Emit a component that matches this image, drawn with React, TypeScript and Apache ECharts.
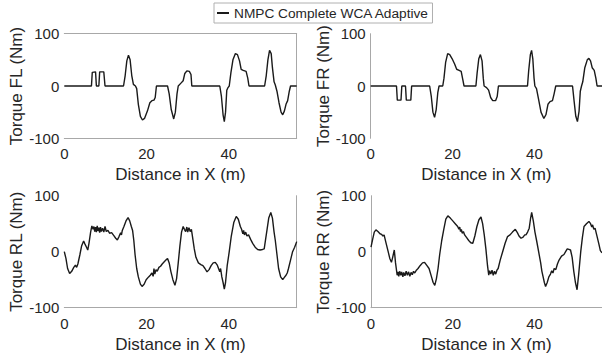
import React, { useEffect, useRef } from "react";
import * as echarts from "echarts";

const seriesName = "NMPC Complete WCA Adaptive";
const xTitle = "Distance in X (m)";
const yTitles = ["Torque FL (Nm)", "Torque FR (Nm)", "Torque RL (Nm)", "Torque RR (Nm)"];
const xRange = [0, 56.5];
const yRange = [-100, 100];

const fl: number[][] = [
  [0, 0], [6.6, 0], [6.8, 26], [7.6, 27], [7.8, 0], [8.4, 0], [8.6, 27], [9.6, 27], [9.9, 0],
  [14.4, 0], [14.8, 20], [15.2, 48], [15.6, 59], [16.0, 50], [16.4, 20], [16.8, 3], [17.3, 0], [17.6, -5],
  [18.0, -35], [18.5, -58], [19.0, -65], [19.5, -62], [20.2, -48], [20.8, -32], [21.3, -28], [21.8, -27],
  [22.1, -22], [22.4, 0], [25.1, 0], [25.5, -15], [26.0, -45], [26.6, -63], [27.0, -50], [27.4, -15],
  [27.7, 0], [28.3, 5], [28.9, 10], [29.3, 24], [29.8, 29], [30.4, 28], [30.8, 22], [31.0, 0],
  [37.8, 0], [38.2, -20], [38.6, -55], [38.9, -68], [39.2, -50], [39.5, -8], [39.8, -3], [40.1, 0],
  [40.5, 25], [41.0, 50], [41.6, 62], [42.1, 60], [42.6, 48], [43.0, 32], [43.5, 30], [44.2, 28],
  [44.6, 15], [44.9, 0], [48.7, 0], [49.1, 20], [49.5, 50], [49.9, 68], [50.3, 62], [50.6, 35],
  [51.0, 8], [51.3, 2], [51.7, -10], [52.2, -32], [52.7, -50], [53.1, -55], [53.5, -48], [53.9, -35],
  [54.3, -28], [54.7, -10], [55.0, 0], [56.5, 0],
];

const fr: number[][] = [
  [0, 0], [6.3, 0], [6.5, -27], [7.4, -27], [7.6, 0], [8.5, 0], [8.7, -27], [9.8, -27], [10.0, 0],
  [14.4, 0], [14.8, -20], [15.2, -50], [15.6, -60], [16.0, -45], [16.4, -12], [16.7, 0], [17.6, 0],
  [17.9, 15], [18.3, 45], [18.8, 62], [19.3, 60], [19.9, 52], [20.5, 42], [21.0, 32], [21.6, 30],
  [22.1, 28], [22.5, 12], [22.8, 0], [25.7, 0], [26.0, 25], [26.4, 52], [26.8, 60], [27.2, 48],
  [27.5, 15], [27.7, 0], [28.3, -3], [28.8, -8], [29.3, -22], [29.8, -28], [30.5, -28], [30.9, -20],
  [31.2, 0], [38.3, 0], [38.6, 30], [39.0, 60], [39.3, 68], [39.6, 52], [39.9, 15], [40.1, 0],
  [40.5, -5], [41.0, -25], [41.6, -50], [42.3, -62], [42.8, -55], [43.3, -35], [43.8, -30], [44.4, -28],
  [44.8, -15], [45.2, 0], [49.3, 0], [49.7, -30], [50.1, -58], [50.5, -68], [50.9, -48], [51.2, -10],
  [51.5, 0], [51.8, 8], [52.3, 35], [52.9, 50], [53.3, 53], [53.7, 48], [54.1, 35], [54.6, 30],
  [55.0, 15], [55.3, 0], [56.5, 0],
];

const rl: number[][] = [
  [0, 0], [0.4, -12], [0.8, -30], [1.3, -39], [1.8, -35], [2.3, -28], [2.7, -24], [3.0, -28], [3.3, -22],
  [3.8, -5], [4.2, 10], [4.7, 19], [5.0, 14], [5.4, 8], [5.7, 3], [6.0, 15], [6.4, 35], [6.7, 46],
  [7.0, 40], [7.2, 45], [7.4, 36], [7.6, 44], [7.8, 35], [8.0, 46], [8.2, 37], [8.4, 43], [8.6, 34],
  [8.8, 44], [9.0, 36], [9.3, 42], [9.6, 35], [9.9, 45], [10.2, 36], [10.6, 38], [11.0, 33], [11.5, 34],
  [12.0, 29], [12.5, 24], [12.9, 21], [13.3, 27], [13.7, 34], [13.9, 30], [14.1, 38], [14.5, 45],
  [15.0, 55], [15.5, 61], [15.9, 55], [16.3, 45], [16.6, 38], [16.9, 20], [17.2, -5], [17.6, -30],
  [18.0, -45], [18.5, -58], [18.9, -62], [19.4, -58], [19.9, -50], [20.5, -45], [20.9, -42], [21.3, -38],
  [21.6, -44], [21.8, -30], [22.0, -40], [22.3, -32], [22.6, -35], [23.0, -28], [23.4, -26], [23.8, -22],
  [24.3, -18], [24.7, -15], [25.1, -12], [25.5, -20], [25.9, -35], [26.4, -50], [26.9, -60], [27.3, -48],
  [27.7, -20], [28.1, 10], [28.5, 35], [28.9, 45], [29.2, 40], [29.5, 36], [29.8, 44], [30.0, 35],
  [30.3, 43], [30.6, 36], [30.9, 40], [31.2, 25], [31.6, 5], [32.0, -10], [32.6, -20], [33.2, -23],
  [33.7, -25], [34.2, -30], [34.7, -36], [35.2, -32], [35.7, -25], [36.2, -20], [36.7, -19], [37.2, -24],
  [37.5, -30], [37.8, -36], [38.0, -30], [38.3, -45], [38.6, -55], [38.9, -67], [39.2, -55], [39.6, -25],
  [40.1, 0], [40.6, 28], [41.2, 52], [41.8, 63], [42.3, 58], [42.8, 45], [43.1, 40], [43.4, 32],
  [43.6, 38], [43.8, 30], [44.1, 35], [44.4, 28], [44.8, 30], [45.3, 22], [45.8, 15], [46.4, 8],
  [47.0, 4], [47.6, 3], [48.2, 4], [48.6, 5], [49.0, 25], [49.3, 40], [49.7, 60], [50.2, 70],
  [50.6, 60], [51.0, 35], [51.3, 20], [51.7, -5], [52.1, -30], [52.6, -45], [53.1, -50], [53.5, -46],
  [53.9, -42], [54.2, -38], [54.5, -30], [55.0, -15], [55.5, 0], [56.0, 8], [56.5, 18],
];

const rr: number[][] = [
  [0, 8], [0.4, 22], [0.8, 35], [1.2, 39], [1.7, 36], [2.2, 32], [2.6, 31], [2.9, 28], [3.2, 30],
  [3.7, 15], [4.2, 0], [4.6, -12], [5.0, -19], [5.3, -10], [5.7, 3], [6.0, -20], [6.4, -42], [6.6, -36],
  [6.8, -44], [7.0, -35], [7.3, -42], [7.5, -36], [7.8, -45], [8.0, -37], [8.3, -43], [8.6, -35],
  [8.9, -42], [9.2, -36], [9.5, -44], [9.8, -37], [10.1, -41], [10.4, -35], [10.7, -38], [11.1, -33],
  [11.5, -30], [12.0, -25], [12.6, -20], [13.1, -19], [13.6, -24], [14.2, -30], [14.8, -45], [15.2, -55],
  [15.6, -60], [16.0, -48], [16.4, -30], [16.8, -5], [17.3, 20], [17.8, 40], [18.3, 58], [18.8, 64],
  [19.4, 60], [20.0, 55], [20.6, 50], [21.2, 45], [21.5, 40], [21.7, 44], [21.9, 36], [22.1, 40],
  [22.3, 33], [22.6, 36], [22.9, 30], [23.4, 25], [23.9, 20], [24.4, 16], [24.9, 15], [25.4, 28],
  [25.9, 45], [26.4, 57], [26.9, 62], [27.3, 50], [27.7, 30], [28.1, 5], [28.5, -25], [28.8, -42],
  [29.0, -34], [29.3, -40], [29.6, -33], [29.9, -42], [30.2, -35], [30.5, -40], [30.8, -33], [31.1, -30],
  [31.6, -15], [32.2, 0], [32.8, 15], [33.4, 27], [34.0, 30], [34.6, 35], [35.3, 40], [35.8, 34],
  [36.2, 28], [36.7, 24], [37.2, 26], [37.6, 30], [37.9, 30], [38.3, 35], [38.7, 42], [39.0, 58],
  [39.3, 70], [39.7, 55], [40.1, 35], [40.5, 20], [41.0, 0], [41.5, -20], [41.8, -35], [42.1, -45],
  [42.4, -55], [42.7, -62], [43.1, -55], [43.5, -45], [43.9, -40], [44.2, -34], [44.5, -38], [44.8, -30],
  [45.2, -32], [45.6, -22], [46.0, -15], [46.6, -8], [47.2, -5], [47.6, 0], [48.0, 5], [48.4, 4],
  [48.8, 3], [49.2, -10], [49.6, -35], [50.0, -55], [50.4, -68], [50.8, -40], [51.3, 0], [51.7, 25],
  [52.1, 45], [52.7, 50], [53.3, 54], [53.7, 50], [54.0, 44], [54.2, 48], [54.5, 40], [54.8, 42],
  [55.2, 30], [55.7, 15], [56.1, 2], [56.5, -2],
];

const allData = [fl, fr, rl, rr];

const FONT = "'Liberation Sans', Arial, sans-serif";
const TEXT = "#262626";
const AXIS = "#a8a8a8";

export default function App() {
  const ref = useRef<HTMLDivElement>(null);
  useEffect(() => {
    if (!ref.current) return;
    const chart = echarts.init(ref.current, undefined, { renderer: "svg" });

    const grids = [
      { left: 64.3, top: 33.7, width: 232.4, height: 104.6 },
      { left: 370.7, top: 33.7, width: 232.4, height: 104.6 },
      { left: 64.3, top: 195.7, width: 232.4, height: 112 },
      { left: 371, top: 195.7, width: 232.4, height: 112 },
    ];
    // which border lines are visible: [bottom, left, top, right]
    const borders = [
      [true, false, true, true],
      [false, true, false, false],
      [true, false, false, true],
      [true, true, false, false],
    ];

    const xAxes: any[] = [];
    const yAxes: any[] = [];
    const series: any[] = [];
    grids.forEach((g, i) => {
      const b = borders[i];
      xAxes.push({
        type: "value",
        gridIndex: i,
        min: xRange[0],
        max: xRange[1],
        interval: 20,
        position: "bottom",
        name: xTitle,
        nameLocation: "middle",
        nameGap: 28,
        nameTextStyle: { fontSize: 17, color: TEXT, fontFamily: FONT },
        axisLine: { show: b[0], onZero: false, lineStyle: { color: AXIS, width: 1 } },
        axisTick: { show: false },
        splitLine: { show: false },
        axisLabel: {
          fontSize: 15,
          color: TEXT,
          fontFamily: FONT,
          margin: 8,
          showMaxLabel: false,
          formatter: (v: number) => (v % 20 === 0 ? String(v) : ""),
        },
      });
      xAxes.push({
        type: "value",
        gridIndex: i,
        min: xRange[0],
        max: xRange[1],
        position: "top",
        axisLine: { show: b[2], onZero: false, lineStyle: { color: AXIS, width: 1 } },
        axisTick: { show: false },
        splitLine: { show: false },
        axisLabel: { show: false },
      });
      yAxes.push({
        type: "value",
        gridIndex: i,
        min: yRange[0],
        max: yRange[1],
        interval: 100,
        position: "left",
        name: yTitles[i],
        nameLocation: "middle",
        nameRotate: 90,
        nameGap: i % 2 === 0 ? 37 : 39,
        nameTextStyle: { fontSize: 17, color: TEXT, fontFamily: FONT },
        axisLine: { show: b[1], onZero: false, lineStyle: { color: AXIS, width: 1 } },
        axisTick: { show: false },
        splitLine: { show: false },
        axisLabel: { fontSize: 15, color: TEXT, fontFamily: FONT, margin: 5 },
      });
      yAxes.push({
        type: "value",
        gridIndex: i,
        min: yRange[0],
        max: yRange[1],
        position: "right",
        axisLine: { show: b[3], onZero: false, lineStyle: { color: AXIS, width: 1 } },
        axisTick: { show: false },
        splitLine: { show: false },
        axisLabel: { show: false },
      });
      series.push({
        type: "line",
        name: seriesName,
        xAxisIndex: i * 2,
        yAxisIndex: i * 2,
        data: allData[i],
        showSymbol: false,
        symbol: "none",
        lineStyle: { color: "#1a1a1a", width: 1.4 },
        itemStyle: { color: "#1a1a1a" },
      });
    });

    chart.setOption({
      animation: false,
      backgroundColor: "#ffffff",
      textStyle: { fontFamily: FONT },
      legend: {
        data: [{ name: seriesName, icon: "rect" }],
        left: 214,
        top: 3,
        padding: [2, 3, 2, 3],
        itemWidth: 12,
        itemHeight: 2,
        borderColor: "#b0b0b0",
        borderWidth: 1,
        textStyle: { fontSize: 13.7, color: TEXT, fontFamily: FONT, lineHeight: 16 },
        itemStyle: { color: "#1a1a1a" },
      },
      grid: grids,
      xAxis: xAxes,
      yAxis: yAxes,
      series,
    });
    return () => chart.dispose();
  }, []);
  return (
    <div
      ref={ref}
      style={{ position: "absolute", left: 0, top: 0, width: 602, height: 356 }}
    />
  );
}
